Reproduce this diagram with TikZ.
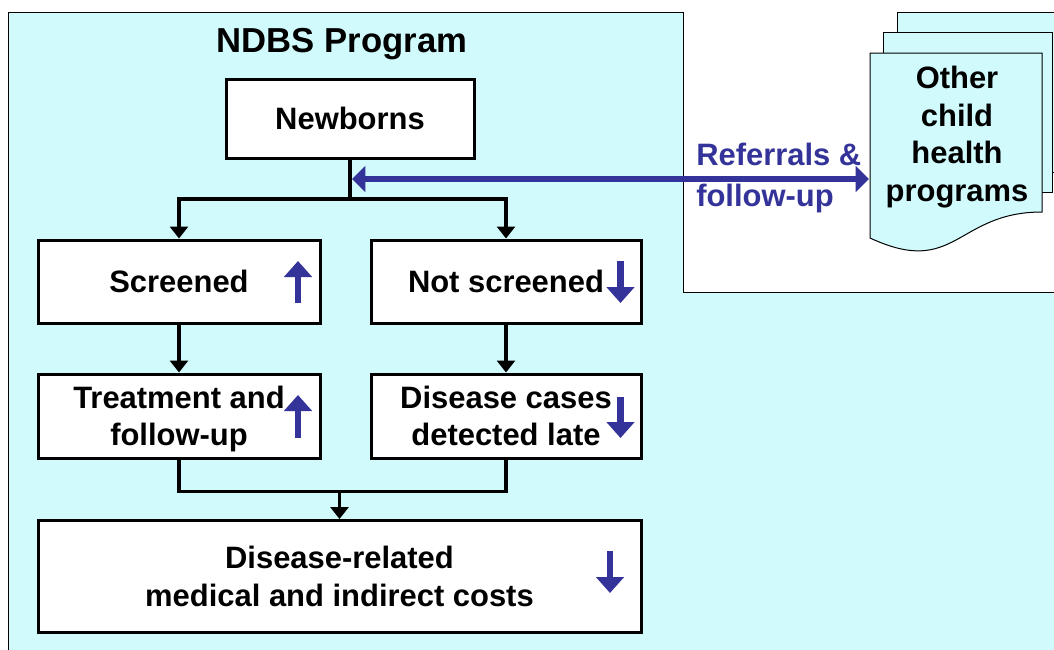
\documentclass[tikz,border=0pt]{standalone}
\usepackage{fontspec}
\setmainfont{Liberation Sans}
\usetikzlibrary{arrows.meta}
\definecolor{panel}{RGB}{208,250,252}
\definecolor{navy}{RGB}{51,51,153}

\begin{document}
\begin{tikzpicture}[x=0.75pt,y=-0.75pt,
  every node/.style={font=\fontsize{23.2pt}{28.1pt}\selectfont\bfseries, inner sep=0pt},
  box/.style={draw=black, fill=white, line width=2.25pt, align=center, text depth=0pt},
  conn/.style={line width=2.6pt},
  arr/.style={conn, -{Triangle[length=9pt,width=13.5pt]}},
  trend/.style={draw=navy, line width=4.9pt, -{Triangle[length=12pt,width=20.5pt]}},
  sheet/.style={draw=black, line width=0.75pt, fill=panel},
  link/.style={draw=navy, line width=4.5pt,
    {Triangle[length=10pt,width=19pt]}-{Triangle[length=10pt,width=19pt]}},
]
\useasboundingbox (0,0) rectangle (1054,650);
\clip (0,0) rectangle (1054,650);

% program panel
\fill[panel] (8,12) -- (683,12) -- (683,292) -- (1060,292) -- (1060,660) -- (8,660) -- cycle;
\draw[line width=0.75pt] (8,660) -- (8,12) -- (683,12) -- (683,292) -- (1060,292);

\node[font=\fontsize{26pt}{30pt}\selectfont\bfseries, anchor=base] (title) at (342,52) {NDBS Program};

% flow boxes
\node[box, minimum width=186pt, minimum height=59.25pt] (nb) at (350,118.5) {Newborns};
\node[box, minimum width=211.5pt, minimum height=62.25pt] (scr) at (179,281.5) {Screened};
\node[box, minimum width=202.5pt, minimum height=62.25pt] (ns) at (506,281.5) {Not screened};
\node[box, minimum width=211.5pt, minimum height=63pt] (tr) at (179,416) {Treatment and\\follow-up};
\node[box, minimum width=202.5pt, minimum height=63pt] (dc) at (506,416) {Disease cases\\detected late};
\node[box, minimum width=452.25pt, minimum height=84pt] (cost) at (339.5,576.5) {Disease-related\\medical and indirect costs};

% connectors
\coordinate (split) at (350,199);
\draw[conn] (nb.south) -- (split);
\draw[arr] (split) -| (scr.north);
\draw[arr] (split) -| (ns.north);
\draw[arr] (scr.south) -- (tr.north);
\draw[arr] (ns.south) -- (dc.north);
\draw[conn] (tr.south) -- ++(0,32) coordinate (mergeL) -| (dc.south);
\draw[arr] (cost.north |- mergeL) -- (cost.north);

% trend indicators
\draw[trend] (298,303) -- (298,261);
\draw[trend] (298,438) -- (298,395);
\draw[trend] (620.5,261) -- (620.5,303);
\draw[trend] (620.5,397) -- (620.5,438);
\draw[trend] (610,551) -- (610,593);

% other programs (stacked documents)
\draw[sheet] (897,12) rectangle (1066,172);
\draw[sheet] (883,32) rectangle (1052,192);
\draw[sheet] (870,53) -- (1042,53) -- (1042,212) .. controls (956,212) and (956,278) .. (870,238) -- cycle;
\node[align=center] (other) at (957,137) {Other\\child\\health\\programs};

% referral link
\coordinate (refA) at (352,179);
\coordinate (refB) at (869,179);
\draw[link] (refA) -- (refB);
\node[navy, align=left, anchor=west] (reflbl) at (696,178) {Referrals \&\\[2pt]follow-up};
\end{tikzpicture}
\end{document}
